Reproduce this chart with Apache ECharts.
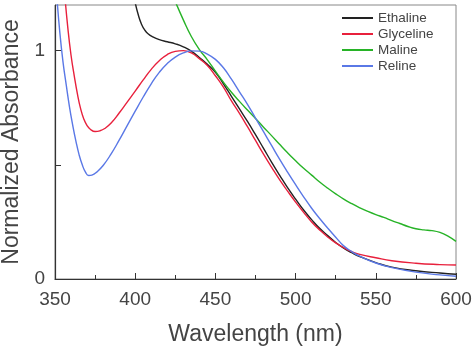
<!DOCTYPE html>
<html>
<head>
<meta charset="utf-8">
<script src="https://cdn.jsdelivr.net/npm/echarts@6/dist/echarts.min.js"></script>
<style>html,body{margin:0;padding:0;background:#fff;}#c{width:474px;height:348px;}</style>
</head>
<body>
<div id="c"></div>
<script>
const seriesNames = ['Ethaline', 'Glyceline', 'Maline', 'Reline'];
const xTicks = [350, 400, 450, 500, 550, 600];
const yLabels = [0, 1];
const yTicks = [0, 0.5, 1];

const ethalineX = [399,400,402,404,406,408,411,415,420,425,430,435,440,445,450,455,460,465,470,475,480,485,490,495,500,505,510,515,520,525,530,535,540,550,560,575,590,600];
const ethalineY = [1.25,1.21,1.155,1.115,1.09,1.074,1.06,1.048,1.039,1.03,1.017,0.998,0.97,0.94,0.905,0.855,0.80,0.745,0.69,0.632,0.572,0.512,0.455,0.40,0.35,0.302,0.26,0.222,0.19,0.16,0.135,0.115,0.098,0.072,0.052,0.036,0.026,0.021];

const glycelineX = [356,358,360,362,364,366,368,370,372,375,378,381,385,390,395,400,405,410,415,420,425,430,435,440,445,450,455,460,465,470,475,480,485,490,495,500,505,510,515,520,525,530,535,540,550,560,575,590,600];
const glycelineY = [1.25,1.1,0.98,0.89,0.81,0.745,0.70,0.672,0.656,0.646,0.649,0.659,0.683,0.727,0.775,0.823,0.872,0.918,0.956,0.983,0.997,1.0,0.99,0.965,0.935,0.89,0.84,0.78,0.725,0.667,0.607,0.547,0.49,0.435,0.385,0.337,0.292,0.25,0.215,0.184,0.158,0.137,0.12,0.108,0.093,0.08,0.069,0.063,0.061];

const malineX = [423,425,430,435,440,445,450,455,460,465,470,475,480,485,490,495,500,505,510,515,520,525,530,535,540,545,550,555,560,565,570,575,580,585,590,595,600];
const malineY = [1.25,1.215,1.135,1.062,1.005,0.96,0.91,0.862,0.818,0.778,0.74,0.703,0.665,0.628,0.59,0.553,0.518,0.485,0.455,0.425,0.398,0.373,0.35,0.33,0.312,0.296,0.282,0.27,0.256,0.243,0.23,0.22,0.215,0.212,0.204,0.188,0.165];

const relineX = [351,353,355,357,359,361,363,365,367,369,371,373,376,380,385,390,395,400,405,410,415,420,425,430,435,440,445,450,455,460,465,470,475,480,485,490,495,500,505,510,515,520,525,530,535,540,550,560,575,590,600];
const relineY = [1.25,1.08,0.95,0.85,0.755,0.675,0.605,0.545,0.5,0.468,0.453,0.455,0.468,0.497,0.548,0.608,0.672,0.735,0.797,0.855,0.905,0.944,0.972,0.99,0.999,0.998,0.985,0.962,0.925,0.875,0.82,0.765,0.705,0.645,0.585,0.525,0.468,0.413,0.36,0.31,0.265,0.223,0.183,0.145,0.12,0.1,0.07,0.05,0.03,0.018,0.012];

const colors = ['#222222', '#e8203c', '#27b327', '#5a78e6'];
const xs = [ethalineX, glycelineX, malineX, relineX];
const ys = [ethalineY, glycelineY, malineY, relineY];

const chart = echarts.init(document.getElementById('c'), null, {renderer: 'canvas'});
const font = 'Liberation Sans, Arial, sans-serif';
chart.setOption({
  animation: false,
  backgroundColor: '#fff',
  grid: {left: 55, right: 18, top: 5, bottom: 69, show: true, borderColor: '#888', borderWidth: 1,
    containLabel: false, outerBoundsMode: 'none'},
  legend: {
    orient: 'vertical', left: 337, top: 6, itemGap: 2, itemWidth: 31, itemHeight: 2,
    icon: 'rect',
    textStyle: {fontFamily: font, fontSize: 13.5, color: '#444'},
    data: seriesNames
  },
  xAxis: {
    type: 'value', min: 350, max: 600, interval: 50,
    name: 'Wavelength (nm)', nameLocation: 'middle', nameGap: 44,
    nameTextStyle: {fontFamily: font, fontSize: 23, color: '#444'},
    axisLine: {show: true, lineStyle: {color: '#333', width: 1.2}},
    axisTick: {show: true, inside: true, length: 6, lineStyle: {color: '#333'}},
    minorTick: {show: true, splitNumber: 2, length: 4, lineStyle: {color: '#333'}},
    axisLabel: {fontFamily: font, fontSize: 19, color: '#444', margin: 11,
      customValues: xTicks},
    splitLine: {show: false}
  },
  yAxis: {
    type: 'value', min: 0, max: 1.2,
    name: 'Normalized Absorbance', nameLocation: 'middle', nameGap: 27,
    nameTextStyle: {fontFamily: font, fontSize: 23, color: '#444'},
    axisLine: {show: true, lineStyle: {color: '#333', width: 1.2}},
    axisTick: {show: true, inside: true, length: 6, lineStyle: {color: '#333'}, customValues: yTicks},
    axisLabel: {fontFamily: font, fontSize: 19, color: '#444', margin: 10, customValues: yLabels},
    splitLine: {show: false}
  },
  series: seriesNames.map((n, i) => ({
    name: n, type: 'line', symbol: 'none', smooth: 0.5, clip: true,
    color: colors[i],
    lineStyle: {color: colors[i], width: 1.4},
    data: xs[i].map((x, j) => [x, ys[i][j]])
  }))
});
</script>
</body>
</html>
